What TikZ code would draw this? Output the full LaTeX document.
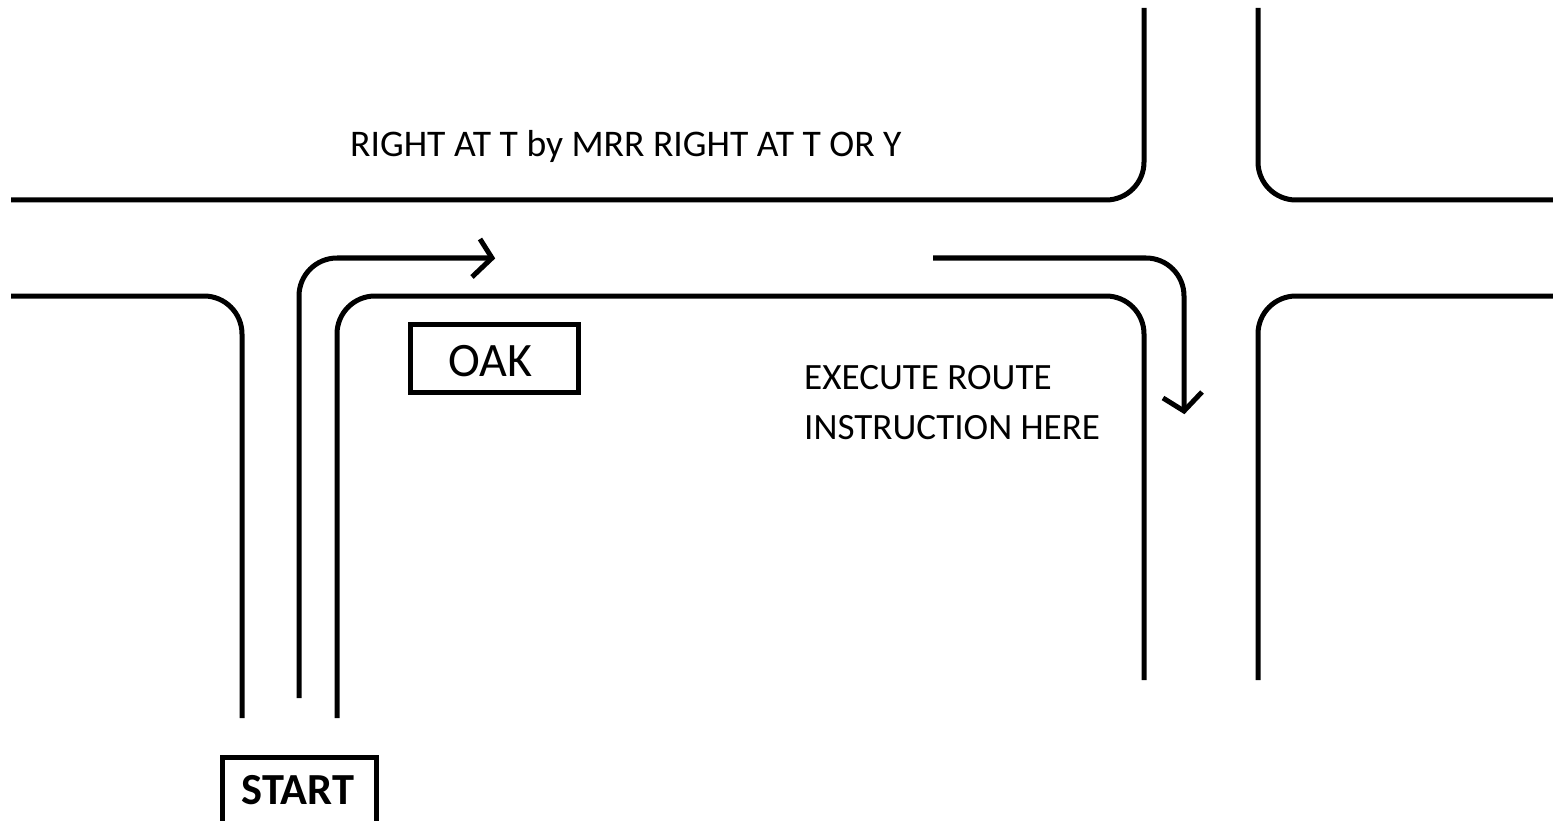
\documentclass[tikz,border=0pt]{standalone}
\usepackage{fontspec}
\setmainfont{Carlito}
\begin{document}
\begin{tikzpicture}[x=1pt,y=-1pt,
  road/.style={line width=5pt,line join=round},
  route/.style={line width=5pt,line join=round},
  head/.style={line width=5pt,line join=miter},
  label/.style={inner sep=0pt,font=\fontsize{37.6}{45}\selectfont,anchor=base west},
  labelb/.style={inner sep=0pt,font=\fontsize{37.1}{45}\selectfont,anchor=base west}]
\useasboundingbox (0,0) rectangle (1553,821);
% roads
\draw[road] (11,200) -- (1106,200) .. controls (1127,200) and (1144,183) .. (1144,162) -- (1144,8);
\draw[road] (1258,8) -- (1258,162) .. controls (1258,183) and (1275,200) .. (1296,200) -- (1553,200);
\draw[road] (11,296) -- (204,296) .. controls (225,296) and (242,313) .. (242,334) -- (242,718);
\draw[road] (337,718) -- (337,334) .. controls (337,313) and (354,296) .. (375,296) -- (1106,296) .. controls (1127,296) and (1144,313) .. (1144,334) -- (1144,680);
\draw[road] (1258,680) -- (1258,334) .. controls (1258,313) and (1275,296) .. (1296,296) -- (1553,296);
% routes
\draw[route] (299,698) -- (299,296) .. controls (299,275) and (316,258) .. (337,258) -- (492,258);
\draw[head] (480,239) -- (492,258) -- (472,277);
\draw[route] (933,258) -- (1146,258) .. controls (1167,258) and (1184,275) .. (1184,296) -- (1184,411);
\draw[head] (1163,398) -- (1184,411) -- (1202,392);
% signs
\draw[line width=5pt] (410.5,324) rectangle (578,392);
\node[inner sep=0pt,font=\fontsize{48}{56}\selectfont,anchor=base] (oak) at (490,376) {OAK};
\draw[line width=5pt] (222,821) -- (222,757) -- (376,757) -- (376,821);
\node[inner sep=0pt,font=\fontsize{44.4}{52}\selectfont\bfseries,anchor=base] (start) at (298,804) {START};
% labels
\node[label] (t1) at (350,157) {RIGHT AT T by MRR RIGHT AT T OR Y};
\node[labelb] (t2) at (804,389) {EXECUTE ROUTE};
\node[labelb] (t3) at (804,439) {INSTRUCTION HERE};
\end{tikzpicture}
\end{document}
